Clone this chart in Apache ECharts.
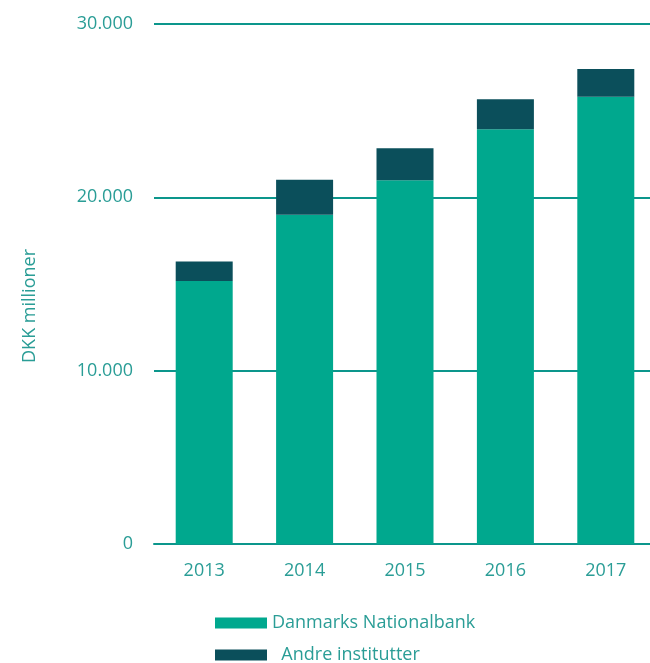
<!DOCTYPE html>
<html>
<head>
<meta charset="utf-8">
<script src="https://cdn.jsdelivr.net/npm/echarts@6/dist/echarts.min.js"></script>
<style>html,body{margin:0;padding:0;background:#fff;overflow:hidden;}#c{width:660px;height:663px;}</style>
</head>
<body>
<div id="c"></div>
<script>
const categories = ['2013', '2014', '2015', '2016', '2017'];
const nationalbank = [15180, 19000, 20980, 23930, 25800];
const andre = [1120, 2020, 1850, 1730, 1600];
const yTicks = [0, 10000, 20000, 30000];

const textColor = '#2a9d96';
const lineColor = '#0c968c';
const fontFamily = '"Open Sans", sans-serif';

function fmt(v) {
  return String(v).replace(/\B(?=(\d{3})+(?!\d))/g, '.');
}

const legendCommon = {
  orient: 'horizontal',
  left: 210,
  itemWidth: 52,
  itemHeight: 11,
  icon: 'rect',
  textStyle: { color: textColor, fontSize: 18, fontFamily: fontFamily },
  formatter: function (name) { return name === 'Andre institutter' ? '  ' + name : name; }
};

const chart = echarts.init(document.getElementById('c'));
chart.setOption({
  animation: false,
  textStyle: { fontFamily: fontFamily },
  grid: { left: 154, top: 24, width: 502, height: 520, containLabel: false },
  legend: [
    Object.assign({}, legendCommon, { top: 609, data: ['Danmarks Nationalbank'] }),
    Object.assign({}, legendCommon, { top: 641, data: ['Andre institutter'] })
  ],
  xAxis: {
    type: 'category',
    data: categories,
    axisLine: { lineStyle: { color: lineColor, width: 2 } },
    axisTick: { show: false },
    axisLabel: { color: textColor, fontSize: 18, margin: 18, fontFamily: fontFamily }
  },
  yAxis: {
    type: 'value',
    min: yTicks[0],
    max: yTicks[yTicks.length - 1],
    interval: 10000,
    axisLine: { show: false },
    axisTick: { show: false },
    axisLabel: { color: textColor, fontSize: 18, margin: 21, fontFamily: fontFamily, formatter: fmt },
    splitLine: { lineStyle: { color: lineColor, width: 2 } }
  },
  graphic: [{
    type: 'text',
    left: 21,
    top: 249,
    rotation: Math.PI / 2,
    style: { text: 'DKK millioner', fill: textColor, font: '18px "Open Sans", sans-serif' }
  }],
  series: [
    {
      name: 'Danmarks Nationalbank',
      type: 'bar',
      stack: 'total',
      barWidth: 57,
      data: nationalbank,
      itemStyle: { color: '#00a88e' }
    },
    {
      name: 'Andre institutter',
      type: 'bar',
      stack: 'total',
      barWidth: 57,
      data: andre,
      itemStyle: { color: '#0b4f5b' }
    }
  ]
});
</script>
</body>
</html>
